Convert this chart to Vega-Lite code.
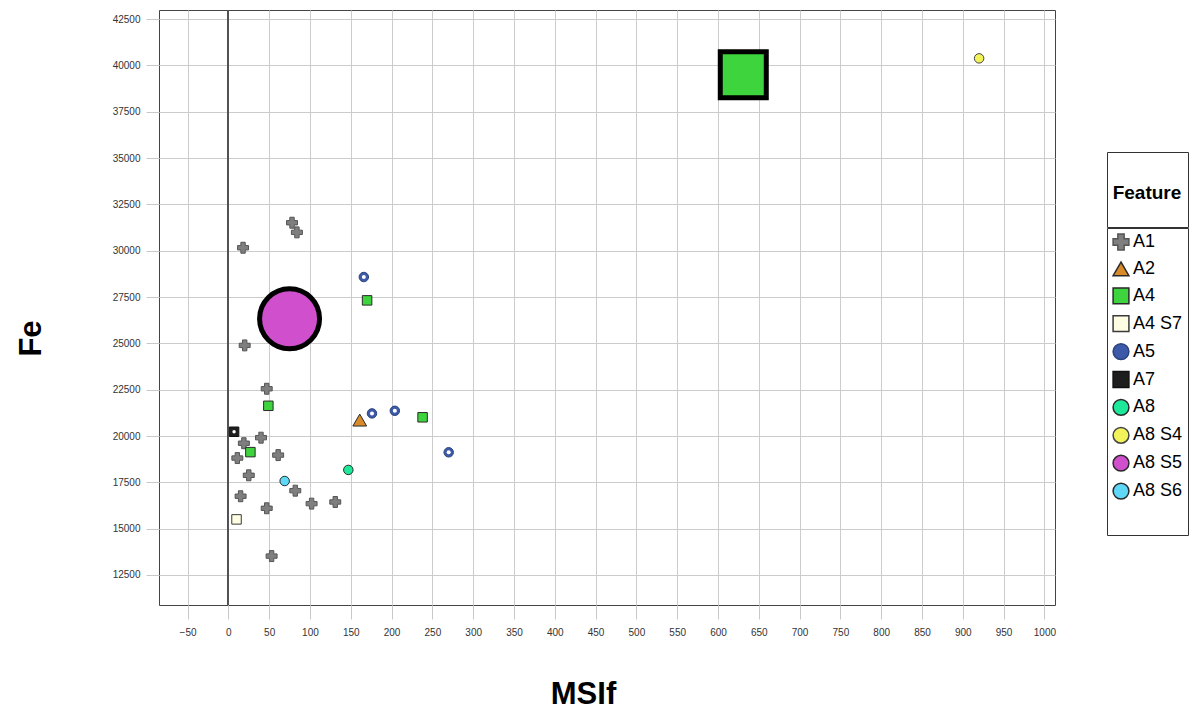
{
  "$schema": "https://vega.github.io/schema/vega-lite/v6.json",
  "width": 896,
  "height": 595,
  "autosize": "none",
  "padding": {"left": 159, "top": 10, "right": 144, "bottom": 107},
  "background": "#ffffff",
  "config": {
    "view": {"stroke": "#444444", "strokeWidth": 1},
    "font": "Liberation Sans",
    "axis": {
      "gridColor": "#cccccc",
      "gridWidth": 1,
      "tickColor": "#c8c8c8",
      "domain": false,
      "labelFont": "Liberation Sans",
      "labelFontSize": 10,
      "labelColor": "#333333",
      "titleFont": "Liberation Sans",
      "titleFontWeight": "bold",
      "titleColor": "#000000",
      "titleFontSize": 31
    }
  },
  "data": {
    "values": [
      {"Feature": "A1", "MSIf": 78, "Fe": 31510, "Marker": "standard"},
      {"Feature": "A1", "MSIf": 84, "Fe": 30990, "Marker": "standard"},
      {"Feature": "A1", "MSIf": 18, "Fe": 30160, "Marker": "standard"},
      {"Feature": "A1", "MSIf": 20, "Fe": 24890, "Marker": "standard"},
      {"Feature": "A1", "MSIf": 47, "Fe": 22550, "Marker": "standard"},
      {"Feature": "A1", "MSIf": 40, "Fe": 19910, "Marker": "standard"},
      {"Feature": "A1", "MSIf": 19, "Fe": 19610, "Marker": "standard"},
      {"Feature": "A1", "MSIf": 11, "Fe": 18810, "Marker": "standard"},
      {"Feature": "A1", "MSIf": 61, "Fe": 18970, "Marker": "standard"},
      {"Feature": "A1", "MSIf": 25, "Fe": 17880, "Marker": "standard"},
      {"Feature": "A1", "MSIf": 82, "Fe": 17050, "Marker": "standard"},
      {"Feature": "A1", "MSIf": 15, "Fe": 16750, "Marker": "standard"},
      {"Feature": "A1", "MSIf": 102, "Fe": 16350, "Marker": "standard"},
      {"Feature": "A1", "MSIf": 131, "Fe": 16440, "Marker": "standard"},
      {"Feature": "A1", "MSIf": 47, "Fe": 16100, "Marker": "standard"},
      {"Feature": "A1", "MSIf": 53, "Fe": 13520, "Marker": "standard"},
      {"Feature": "A2", "MSIf": 161, "Fe": 20860, "Marker": "standard"},
      {"Feature": "A4", "MSIf": 170, "Fe": 27320, "Marker": "standard"},
      {"Feature": "A4", "MSIf": 49, "Fe": 21630, "Marker": "standard"},
      {"Feature": "A4", "MSIf": 238, "Fe": 21010, "Marker": "standard"},
      {"Feature": "A4", "MSIf": 27, "Fe": 19130, "Marker": "standard"},
      {"Feature": "A4", "MSIf": 631, "Fe": 39500, "Marker": "large"},
      {"Feature": "A4 S7", "MSIf": 10, "Fe": 15500, "Marker": "standard"},
      {"Feature": "A5", "MSIf": 166, "Fe": 28580, "Marker": "standard"},
      {"Feature": "A5", "MSIf": 176, "Fe": 21220, "Marker": "standard"},
      {"Feature": "A5", "MSIf": 204, "Fe": 21360, "Marker": "standard"},
      {"Feature": "A5", "MSIf": 270, "Fe": 19120, "Marker": "standard"},
      {"Feature": "A7", "MSIf": 7, "Fe": 20230, "Marker": "standard"},
      {"Feature": "A8", "MSIf": 147, "Fe": 18170, "Marker": "standard"},
      {"Feature": "A8 S4", "MSIf": 920, "Fe": 40380, "Marker": "standard"},
      {"Feature": "A8 S5", "MSIf": 75, "Fe": 26330, "Marker": "larger"},
      {"Feature": "A8 S6", "MSIf": 69, "Fe": 17570, "Marker": "standard"}
    ]
  },
  "encoding": {
    "x": {
      "field": "MSIf", "type": "quantitative",
      "scale": {"domain": [-85, 1013], "nice": false, "zero": false},
      "axis": {
        "values": [-50, 0, 50, 100, 150, 200, 250, 300, 350, 400, 450, 500, 550, 600, 650, 700, 750, 800, 850, 900, 950, 1000],
        "format": "d",
        "tickSize": 14, "labelPadding": 8,
        "title": "MSIf", "titleX": 424, "titleY": 89, "titleBaseline": "middle", "titleAlign": "center"
      }
    },
    "y": {
      "field": "Fe", "type": "quantitative",
      "scale": {"domain": [10880, 42990], "nice": false, "zero": false},
      "axis": {
        "values": [12500, 15000, 17500, 20000, 22500, 25000, 27500, 30000, 32500, 35000, 37500, 40000, 42500],
        "format": "d",
        "tickSize": 13, "labelPadding": 6,
        "title": "Fe", "titleAngle": -90, "titleX": -128, "titleY": 328, "titleBaseline": "middle", "titleAlign": "center"
      }
    }
  },
  "layer": [
    {
      "mark": {"type": "rule", "color": "#555555", "strokeWidth": 1},
      "encoding": {"x": {"datum": 0}, "y": {"value": 0}, "y2": {"value": 595}}
    },
    {
      "transform": [{"filter": "datum.Marker === 'standard'"}],
      "mark": {"type": "point", "filled": true, "opacity": 1, "strokeWidth": 1},
      "encoding": {
        "shape": {
          "field": "Feature", "type": "nominal",
          "scale": {
            "domain": ["A1", "A2", "A4", "A4 S7", "A5", "A7", "A8", "A8 S4", "A8 S5", "A8 S6"],
            "range": ["cross", "triangle-up", "square", "square", "circle", "square", "circle", "circle", "circle", "circle"]
          },
          "legend": {
            "title": " ",
            "titleOrient": "bottom",
            "titleFontSize": 17,
            "titlePadding": 12,
            "orient": "none", "legendX": 948, "legendY": 218,
            "padding": 5, "strokeColor": "#333333",
            "symbolSize": 250, "symbolStrokeWidth": 1.5,
            "labelFont": "Liberation Sans", "labelFontSize": 18, "labelColor": "#000000",
            "labelOffset": 3, "rowPadding": 5.9
          }
        },
        "fill": {
          "field": "Feature", "type": "nominal",
          "scale": {
            "domain": ["A1", "A2", "A4", "A4 S7", "A5", "A7", "A8", "A8 S4", "A8 S5", "A8 S6"],
            "range": ["#7f7f7f", "#d8892a", "#3dd43d", "#fffde2", "#3c5aa8", "#1e1e1e", "#1ee89a", "#f2f25a", "#d04fcd", "#5fd8f7"]
          }
        },
        "stroke": {
          "field": "Feature", "type": "nominal",
          "scale": {
            "domain": ["A1", "A2", "A4", "A4 S7", "A5", "A7", "A8", "A8 S4", "A8 S5", "A8 S6"],
            "range": ["#555555", "#2a2a2a", "#2a2a2a", "#3a3a3a", "#2c447e", "#111111", "#2a2a2a", "#444444", "#2a2a2a", "#2a2a2a"]
          }
        },
        "size": {
          "condition": [
            {"test": "datum.Feature === 'A2'", "value": 190},
            {"test": "datum.Feature === 'A1'", "value": 120}
          ],
          "value": 90
        }
      }
    },
    {
      "transform": [{"filter": "datum.Feature === 'A5' || datum.Feature === 'A7'"}],
      "mark": {"type": "point", "filled": true, "opacity": 1, "color": "#ffffff", "strokeWidth": 0},
      "encoding": {
        "size": {
          "condition": {"test": "datum.Feature === 'A7'", "value": 12},
          "value": 16
        }
      }
    },
    {
      "transform": [{"filter": "datum.Marker !== 'standard'"}],
      "mark": {"type": "point", "filled": true, "opacity": 1, "stroke": "#000000", "strokeWidth": 5},
      "encoding": {
        "shape": {"field": "Feature", "type": "nominal"},
        "fill": {"field": "Feature", "type": "nominal"},
        "size": {
          "field": "Marker", "type": "ordinal",
          "scale": {"domain": ["large", "larger"], "range": [2116, 3600]},
          "legend": {
            "title": ["", "Feature"],
            "titleLineHeight": 25.5,
            "orient": "none", "legendX": 948, "legendY": 142,
            "values": ["large"],
            "labelExpr": "''",
            "symbolOpacity": 0,
            "clipHeight": 1,
            "padding": 6,
            "strokeColor": "#333333",
            "titleFont": "Liberation Sans", "titleFontSize": 19, "titleFontWeight": "bold", "titleColor": "#000000",
            "titleAnchor": "middle", "titleAlign": "center",
            "titlePadding": 12.5
          }
        }
      }
    }
  ]
}
